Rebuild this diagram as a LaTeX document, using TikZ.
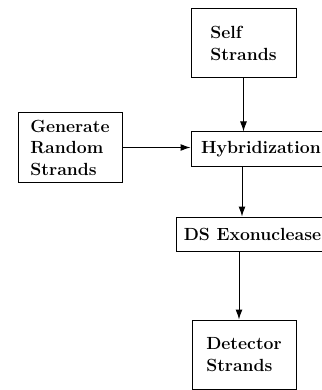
\documentclass[tikz,border=0pt]{standalone}
\usetikzlibrary{arrows.meta}
\begin{document}
\begin{tikzpicture}[x=1pt,y=-1pt,
  box/.style={draw,line width=1pt,align=left,inner sep=0pt,
    font=\fontsize{17.6}{21.5}\selectfont\bfseries},
  arr/.style={line width=1pt,-{Latex[length=10pt,width=7pt]}}]
\useasboundingbox (0,0) rectangle (321,390);
\node[box,minimum width=105pt,minimum height=69pt] (self) at (243.5,43.5) {Self\\Strands};
\node[box,minimum width=104pt,minimum height=69pt] (gen) at (70,147.5) {Generate\\Random\\Strands};
\node[box,minimum width=140pt,minimum height=34pt] (hyb) at (261,149) {Hybridization};
\node[box,minimum width=153pt,minimum height=34pt] (ds) at (252.5,234) {DS Exonuclease};
\node[box,minimum width=104pt,minimum height=69pt] (det) at (244,354.5) {Detector\\Strands};
\draw[arr] (self.south) -- (self.south |- hyb.north);
\draw[arr] (gen.east) -- (gen.east -| hyb.west);
\draw[arr] ([xshift=-19pt]hyb.south) -- ([xshift=-19pt]hyb.south |- ds.north);
\draw[arr] ([xshift=-13.5pt]ds.south) -- ([xshift=-13.5pt]ds.south |- det.north);
\end{tikzpicture}
\end{document}
